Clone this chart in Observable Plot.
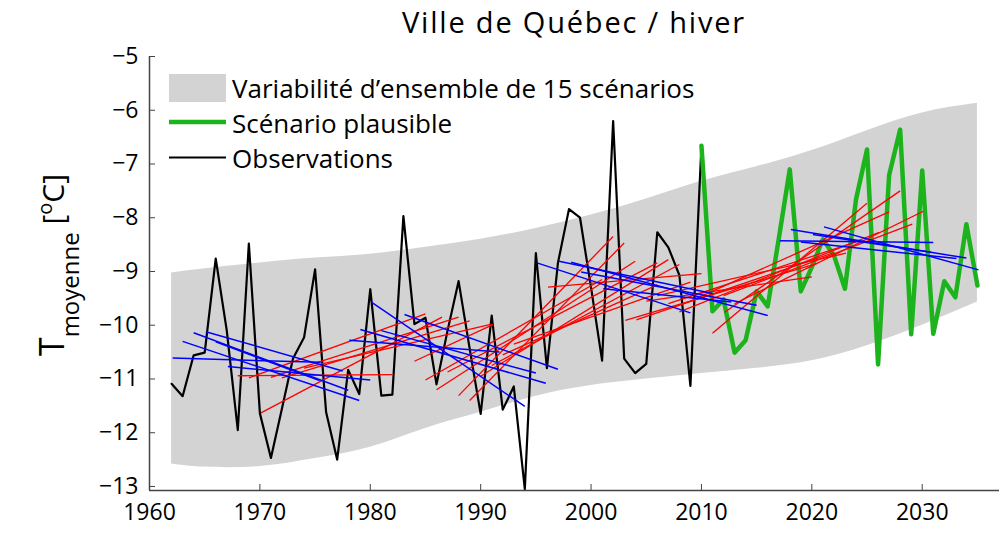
<!DOCTYPE html>
<html><head><meta charset="utf-8">
<script src="https://cdn.jsdelivr.net/npm/d3@7"></script>
<script src="https://cdn.jsdelivr.net/npm/@observablehq/plot@0.6"></script>
<style>
body{margin:0;background:#fff;font-family:"Open Sans",sans-serif;}
#title{height:40px;line-height:44px;width:850px;margin-left:149px;text-align:center;font-size:29px;letter-spacing:1.8px;color:#000;white-space:nowrap;}
#chart svg{display:block;}
</style></head><body>
<div id="title">Ville de Québec / hiver</div>
<div id="chart"></div>
<script>
// ---------- data ----------
const obsYears = [1962,1963,1964,1965,1966,1967,1968,1969,1970,1971,1972,1973,1974,1975,1976,1977,1978,1979,1980,1981,1982,1983,1984,1985,1986,1987,1988,1989,1990,1991,1992,1993,1994,1995,1996,1997,1998,1999,2000,2001,2002,2003,2004,2005,2006,2007,2008,2009,2010];
const obsValues = [-11.09,-11.32,-10.56,-10.51,-8.76,-10.10,-11.95,-8.48,-11.64,-12.47,-11.55,-10.62,-10.23,-8.96,-11.62,-12.50,-10.83,-11.28,-9.33,-11.31,-11.29,-7.97,-9.98,-9.86,-11.10,-10.10,-9.18,-10.43,-11.65,-9.82,-11.57,-11.14,-13.05,-8.66,-10.80,-8.84,-7.84,-8.00,-9.30,-10.66,-6.20,-10.62,-10.89,-10.72,-8.27,-8.55,-9.07,-11.13,-6.66];

const scenYears = [2010,2011,2012,2013,2014,2015,2016,2017,2018,2019,2020,2021,2022,2023,2024,2025,2026,2027,2028,2029,2030,2031,2032,2033,2034,2035];
const scenValues = [-6.66,-9.74,-9.52,-10.51,-10.28,-9.37,-9.65,-8.40,-7.10,-9.37,-8.92,-8.40,-8.70,-9.32,-7.66,-6.73,-10.73,-7.21,-6.36,-10.17,-7.12,-10.16,-9.18,-9.48,-8.12,-9.26];

const bandYears = [1962,1965,1970,1975,1980,1985,1990,1995,2000,2005,2010,2015,2020,2025,2030,2035];
const bandUpper = [-9.03,-8.95,-8.84,-8.75,-8.68,-8.55,-8.40,-8.20,-7.95,-7.65,-7.32,-7.05,-6.75,-6.38,-6.05,-5.87];
const bandLower = [-12.58,-12.64,-12.63,-12.48,-12.27,-11.92,-11.62,-11.32,-11.12,-11.00,-10.90,-10.80,-10.66,-10.38,-10.00,-9.57];

// trend segments: [start year, start value, end year, end value]
const redTrends = [
  [1968.0,-10.94,1982.0,-10.92],
  [1969.0,-10.98,1985.0,-9.79],
  [1970.1,-11.63,1986.5,-9.85],
  [1971.0,-10.97,1988.0,-9.85],
  [1972.0,-10.98,1989.0,-9.92],
  [1974.0,-10.80,1991.0,-9.98],
  [1984.0,-10.67,1991.1,-9.99],
  [1985.0,-11.02,2001.0,-9.15],
  [1986.0,-11.20,2004.0,-8.81],
  [1987.0,-10.87,2006.0,-8.84],
  [1988.0,-11.31,2002.0,-8.35],
  [1989.0,-11.40,2003.0,-8.47],
  [1990.0,-10.95,2007.0,-8.78],
  [1991.0,-10.75,2008.0,-8.87],
  [1992.0,-10.55,2006.0,-9.25],
  [1993.0,-10.35,2009.0,-9.20],
  [1996.1,-9.29,2010.0,-9.04],
  [2003.1,-9.91,2020.5,-8.85],
  [2004.1,-9.90,2022.0,-8.65],
  [2005.0,-9.55,2020.0,-9.10],
  [2006.0,-9.45,2023.1,-8.66],
  [2007.0,-9.60,2024.0,-8.45],
  [2008.0,-9.75,2026.1,-8.27],
  [2009.0,-9.55,2027.0,-7.89],
  [2011.0,-10.15,2025.0,-7.73],
  [2012.1,-9.76,2028.0,-7.50],
  [2012.0,-9.45,2029.1,-8.12],
  [2013.0,-9.60,2030.1,-7.88]
];
const blueTrends = [
  [1962.1,-10.61,1975.5,-10.69],
  [1963.0,-10.30,1979.0,-11.40],
  [1964.0,-10.14,1978.0,-11.21],
  [1965.1,-10.12,1977.5,-10.85],
  [1966.0,-10.31,1975.4,-11.03],
  [1967.1,-10.77,1980.0,-11.02],
  [1980.1,-9.57,1994.0,-11.51],
  [1983.1,-9.80,1997.0,-10.82],
  [1979.1,-10.08,1995.9,-11.08],
  [1981.0,-10.10,1995.0,-10.89],
  [1978.1,-10.28,1991.7,-10.50],
  [1995.1,-8.84,2009.0,-9.77],
  [1997.1,-8.81,2011.0,-9.41],
  [1998.2,-8.83,2016.0,-9.82],
  [1999.1,-9.01,2015.0,-9.63],
  [2001.1,-9.32,2012.7,-9.57],
  [2018.1,-8.22,2034.0,-8.75],
  [2021.1,-8.17,2035.1,-8.97],
  [2017.1,-8.43,2031.0,-8.46],
  [2019.0,-8.45,2033.1,-8.76],
  [2020.1,-8.31,2030.8,-8.64]
];

const xDomain = [1960, 2037];
const yDomain = [-13.075, -5];
const xTicks = [1960,1970,1980,1990,2000,2010,2020,2030];
const yTicks = [-13,-12,-11,-10,-9,-8,-7,-6,-5];

const legendLabels = ["Variabilité d\u2019ensemble de 15 scénarios","Scénario plausible","Observations"];

// ---------- build tables ----------
const obs = obsYears.map((y,i)=>({year:y, value:obsValues[i]}));
const scen = scenYears.map((y,i)=>({year:y, value:scenValues[i]}));
const band = bandYears.map((y,i)=>({year:y, upper:bandUpper[i], lower:bandLower[i]}));
const toSeg = a => ({x1:a[0], y1:a[1], x2:a[2], y2:a[3]});
const reds = redTrends.map(toSeg);
const blues = blueTrends.map(toSeg);

const axisColor = "#444";
const plot = Plot.plot({
  width: 1000, height: 517,
  marginLeft: 149, marginRight: 1, marginTop: 16, marginBottom: 67,
  x: {domain: xDomain},
  y: {domain: yDomain},
  style: {fontFamily: "Open Sans", fontSize: "23px", color: "#000", background: "white"},
  marks: [
    Plot.areaY(band, {x: "year", y1: "lower", y2: "upper", fill: "#d3d3d3", curve: "natural"}),
    Plot.line(obs, {x: "year", y: "value", stroke: "#000", strokeWidth: 2.2}),
    Plot.line(scen, {x: "year", y: "value", stroke: "#1db31d", strokeWidth: 4.5}),
    Plot.link(reds, {x1: "x1", y1: "y1", x2: "x2", y2: "y2", stroke: "#ff0000", strokeWidth: 1.3}),
    Plot.link(blues, {x1: "x1", y1: "y1", x2: "x2", y2: "y2", stroke: "#0000ff", strokeWidth: 1.5}),
    Plot.ruleX([xDomain[0]], {stroke: axisColor, strokeWidth: 1.5}),
    Plot.ruleY([yDomain[0]], {stroke: axisColor, strokeWidth: 1.5}),
    Plot.axisY({ticks: yTicks, tickSize: -6, tickPadding: 17, stroke: axisColor, label: null, tickFormat: d3.format("d")}),
    Plot.axisX({ticks: xTicks, tickSize: -6, tickPadding: 19, stroke: axisColor, label: null, tickFormat: d => String(d)})
  ]
});
document.getElementById("chart").appendChild(plot);

// ---------- legend & y label ----------
const svg = d3.select(plot);
const lg = svg.append("g").attr("font-family", "Open Sans").attr("font-size", 26).attr("fill", "#000").attr("text-anchor", "start");
lg.append("rect").attr("x", 169).attr("y", 34).attr("width", 57).attr("height", 28).attr("fill", "#d3d3d3");
lg.append("line").attr("x1", 169).attr("x2", 226).attr("y1", 82).attr("y2", 82).attr("stroke", "#1db31d").attr("stroke-width", 4.5);
lg.append("line").attr("x1", 169).attr("x2", 226).attr("y1", 117.5).attr("y2", 117.5).attr("stroke", "#000").attr("stroke-width", 2);
[57.5, 92.5, 127.5].forEach((by, i) => {
  lg.append("text").attr("x", 232).attr("y", by).attr("text-anchor", "start").text(legendLabels[i]);
});

const yl = svg.append("text").attr("font-family", "Open Sans").attr("fill", "#000")
  .attr("text-anchor", "middle").attr("transform", "translate(64,225) rotate(-90)");
yl.append("tspan").attr("font-size", 34).text("T");
yl.append("tspan").attr("font-size", 24).attr("dy", 15).text("moyenne");
yl.append("tspan").attr("font-size", 30).attr("dy", -15).text(" [");
yl.append("tspan").attr("font-size", 20).attr("dy", -12).text("o");
yl.append("tspan").attr("font-size", 30).attr("dy", 12).text("C]");
</script>
</body></html>
